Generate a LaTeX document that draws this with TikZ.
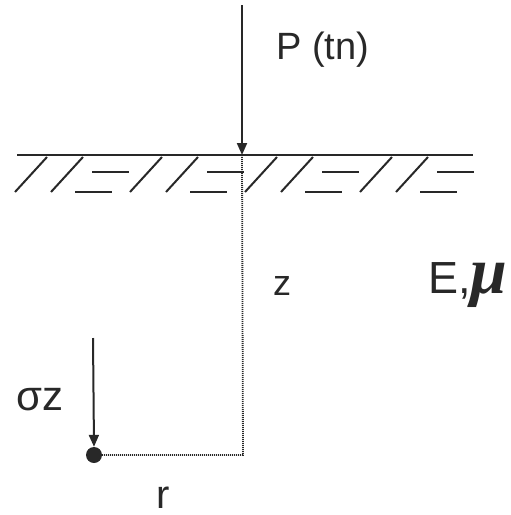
\documentclass[tikz,border=0pt]{standalone}
\usepackage{fontspec}
\setmainfont{Liberation Sans}
\newfontfamily\mufont{Liberation Serif}
\usetikzlibrary{arrows.meta}
\definecolor{ink}{RGB}{40,40,40}
\tikzset{
  arr/.style={ink,line width=2pt,-{Triangle[length=12pt,width=10pt]}},
  ground/.style={ink,line width=2.2pt},
  hatch/.style={ink,line width=2pt},
  dotline/.style={ink,line width=1.8pt,dash pattern=on 1pt off 1pt},
  lbl/.style={ink,inner sep=0pt,font=\fontsize{38}{40}\selectfont}
}
\begin{document}
\begin{tikzpicture}[x=1pt,y=-1pt]
\useasboundingbox (0,0) rectangle (511,515);
% surface
\coordinate (gl) at (17,155);
\coordinate (gr) at (473,155);
\draw[ground] (gl) -- (gr);
\foreach \k in {0,1,2,3}{
  \draw[hatch] (15+115*\k,192) -- (47+115*\k,157);
  \draw[hatch] (51+115*\k,192) -- (83+115*\k,157);
  \draw[hatch] (92+115*\k,172) -- (129+115*\k,172);
  \draw[hatch] (75+115*\k,192) -- (112+115*\k,192);
}
% load
\coordinate (ptop) at (242,5);
\coordinate (s) at (242,155);
\coordinate (corner) at (243,455);
\node[circle,fill=ink,inner sep=0pt,minimum size=16pt] (dot) at (94,455) {};
\coordinate (stop) at (93,338);
\draw[dotline] (s) -- (corner) -- (dot.center);
\draw[arr] (ptop) -- (s);
\draw[arr] (stop) -- (dot.north);
% labels
\node[lbl,anchor=west] (P) at (276,50) {P (tn)};
\node[lbl,font=\fontsize{36}{38}\selectfont] (z) at (282,286) {z};
\node[lbl,anchor=base west,font=\fontsize{45}{47}\selectfont] (E) at (428,293) {E,{\mufont\bfseries\itshape\fontsize{66}{68}\selectfont μ}};
\node[lbl,anchor=west,font=\fontsize{42}{44}\selectfont] (sig) at (16,400) {σz};
\node[lbl,anchor=base,font=\fontsize{40}{42}\selectfont] (r) at (163,508) {r};
\end{tikzpicture}
\end{document}
